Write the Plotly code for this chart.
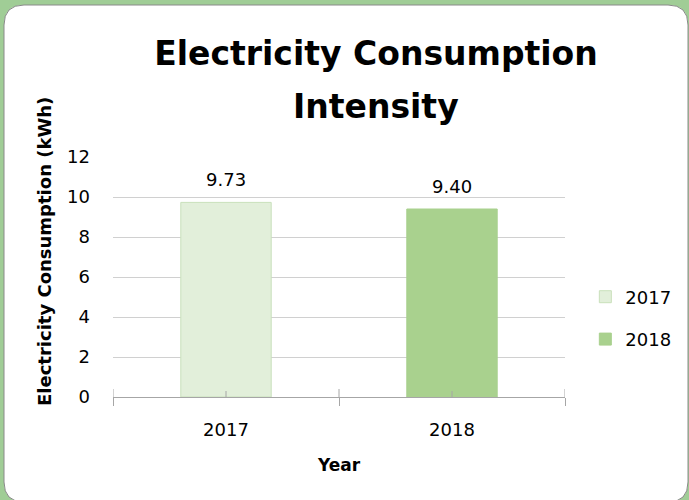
import plotly.graph_objects as go

years = ["2017", "2018"]
values = [9.73, 9.40]
labels = ["9.73", "9.40"]
fill_colors = ["#e2efda", "#a9d18e"]
line_colors = ["#c9e0bb", "#a9d18e"]

W, H = 689, 500
L, R, T, B = 113, 124, 157, 103
PW, PH = W - L - R, H - T - B

def px(x):
    return (x - L) / PW

def py(y):
    return (H - B - y) / PH

TICK_FONT = dict(family="Verdana, DejaVu Sans", size=18, color="#000")
BOLD_FONT = "Comic Sans MS, DejaVu Sans"

fig = go.Figure()
for yr, v, fc, lc in zip(years, values, fill_colors, line_colors):
    fig.add_trace(go.Bar(
        x=[yr], y=[v], name=yr, legendgroup=yr,
        marker=dict(color=fc, line=dict(color=lc, width=1)),
        width=0.4, cliponaxis=False, hoverinfo="skip",
    ))

# rounded white card
x0, y0, x1, y1, r = 4, 5, 688, 502, 20
path = (f"M {px(x0+r)},{py(y0)} L {px(x1-r)},{py(y0)} "
        f"Q {px(x1)},{py(y0)} {px(x1)},{py(y0+r)} L {px(x1)},{py(y1-r)} "
        f"Q {px(x1)},{py(y1)} {px(x1-r)},{py(y1)} L {px(x0+r)},{py(y1)} "
        f"Q {px(x0)},{py(y1)} {px(x0)},{py(y1-r)} L {px(x0)},{py(y0+r)} "
        f"Q {px(x0)},{py(y0)} {px(x0+r)},{py(y0)} Z")
shapes = [dict(type="path", path=path, xref="paper", yref="paper",
               fillcolor="white", line=dict(color="#8a8a8a", width=1), layer="below")]
# upward parts of boundary ticks and short center ticks
for xb in [-0.5, 0.5, 1.5]:
    shapes.append(dict(type="line", xref="x", yref="paper", x0=xb, x1=xb,
                       y0=0, y1=8 / PH, line=dict(color="#a6a6a6", width=1)))
for xc in [0, 1]:
    shapes.append(dict(type="line", xref="x", yref="paper", x0=xc, x1=xc,
                       y0=0, y1=6 / PH, line=dict(color="#a6a6a6", width=1)))

annotations = [
    dict(text="<b>Intensity</b>", xref="paper", yref="paper",
         x=px(376), y=py(106), xanchor="center", yanchor="middle", showarrow=False,
         font=dict(family=BOLD_FONT, size=33, color="#000")),
    dict(text="<b>Electricity Consumption (kWh)</b>", xref="paper", yref="paper",
         x=px(44), y=py(252), xanchor="center", yanchor="middle", showarrow=False,
         textangle=-90, font=dict(family=BOLD_FONT, size=18, color="#000")),
]
# value labels above bars (category index on the x axis)
for i, (v, lab) in enumerate(zip(values, labels)):
    annotations.append(dict(text=lab, x=i, y=v, xref="x", yref="y",
                            xanchor="center", yanchor="bottom", yshift=10,
                            showarrow=False,
                            font=dict(family="Verdana, DejaVu Sans", size=18, color="#000")))

fig.update_layout(
    width=W, height=H,
    margin=dict(l=L, r=R, t=T, b=B),
    paper_bgcolor="#a0cd96", plot_bgcolor="rgba(0,0,0,0)",
    barmode="overlay",
    shapes=shapes,
    annotations=annotations,
    title=dict(text="<b>Electricity Consumption</b>",
               xref="container", x=376 / W, xanchor="center",
               yref="container", y=1 - 53 / H, yanchor="middle",
               font=dict(family=BOLD_FONT, size=33, color="#000")),
    showlegend=True,
    legend=dict(x=1.045, xanchor="left", y=py(318), yanchor="middle",
                font=TICK_FONT,
                bgcolor="rgba(0,0,0,0)", tracegroupgap=16, itemwidth=30),
    xaxis=dict(type="category", range=[-0.5, 1.5], tickson="boundaries",
               ticks="outside", ticklen=8, tickcolor="#a6a6a6",
               showline=True, linecolor="#a6a6a6", linewidth=1,
               showgrid=False, fixedrange=True,
               tickfont=TICK_FONT,
               ticklabelstandoff=16,
               title=dict(text="<b>Year</b>", standoff=20,
                          font=dict(family=BOLD_FONT, size=17, color="#000"))),
    yaxis=dict(range=[0, 12], dtick=2, showgrid=True, gridcolor="#d0d0d0",
               gridwidth=1, zeroline=False, showline=False, ticks="",
               fixedrange=True,
               tickfont=TICK_FONT,
               ticklabelstandoff=22),
)

fig.write_html("out.html", config={"displayModeBar": False},
               post_script="document.body.style.margin='0';document.body.style.overflow='hidden';")
